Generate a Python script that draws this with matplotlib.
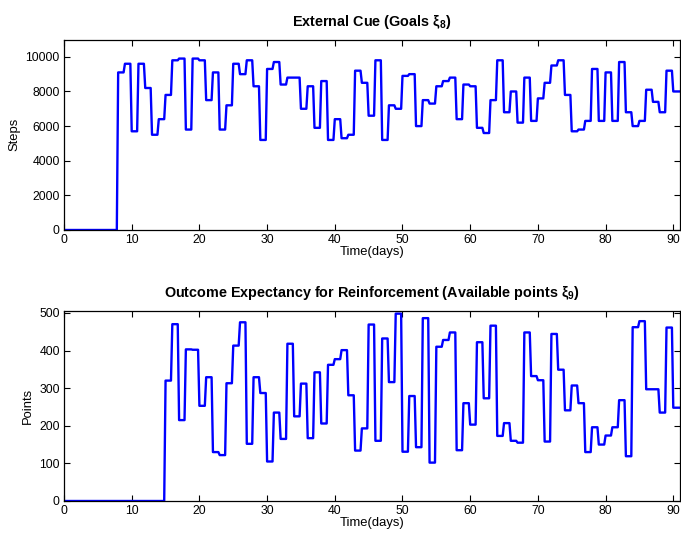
import numpy as np
import matplotlib
matplotlib.use("Agg")
import matplotlib.pyplot as plt

plt.rcParams['font.family'] = ['Liberation Sans', 'DejaVu Sans']
plt.rcParams['mathtext.fontset'] = 'custom'
plt.rcParams['mathtext.rm'] = 'Liberation Sans'
plt.rcParams['mathtext.bf'] = 'Liberation Sans:bold'
plt.rcParams['mathtext.it'] = 'Liberation Sans:italic'

# Daily goal (steps) for days 0..90
goal_steps = [0, 0, 0, 0, 0, 0, 0, 0,
              9100, 9600, 5700, 9600, 8200, 5500, 6400, 7800, 9800, 9900,
              5800, 9900, 9800, 7500, 9100, 5800, 7200, 9600, 9000, 9800,
              8300, 5200, 9300, 9700, 8400, 8800, 8800, 7000, 8300, 5900,
              8600, 5200, 6400, 5300, 5500, 9200, 8500, 6600, 9800, 5200,
              7200, 7000, 8900, 9000, 6000, 7500, 7300, 8300, 8600, 8800,
              6400, 8400, 8300, 5900, 5600, 7500, 9800, 6800, 8000, 6200,
              8800, 6300, 7600, 8500, 9500, 9800, 7800, 5700, 5800, 6300,
              9300, 6300, 9100, 6300, 9700, 6800, 6000, 6300, 8100, 7400,
              6800, 9200, 8000]

# Daily available points for days 0..90
avail_points = [0] * 15 + [
    320, 470, 215, 403, 402, 253, 329, 130, 122, 313, 413, 475, 152,
    329, 287, 105, 235, 165, 418, 225, 312, 167, 342, 206, 362, 377,
    401, 281, 134, 193, 469, 160, 432, 316, 498, 131, 279, 143, 486,
    102, 410, 428, 448, 135, 260, 203, 422, 273, 466, 173, 207, 160,
    155, 448, 332, 321, 158, 444, 349, 241, 307, 260, 130, 196, 150,
    174, 196, 268, 119, 462, 478, 297, 297, 235, 461, 248]

n_days = 91
# simulation time grid (0.2-day resolution), value held over each day
t = np.linspace(0, n_days, n_days * 5 + 1)
day_idx = np.minimum(np.floor(t + 1e-9).astype(int), n_days - 1)
goal_series = np.asarray(goal_steps)[day_idx]
points_series = np.asarray(avail_points)[day_idx]

fig = plt.figure(figsize=(6.81, 5.34), dpi=100)
ax1 = fig.add_axes([0.094, 0.5693, 0.9046, 0.3567])
ax2 = fig.add_axes([0.094, 0.0618, 0.9046, 0.3558])

panels = [
    (ax1, goal_series, 'Steps', (0, 11000), np.arange(0, 10001, 2000),
     r'External Cue (Goals $\mathbf{\xi_8}$)'),
    (ax2, points_series, 'Points', (0, 505), np.arange(0, 501, 100),
     r'Outcome Expectancy for Reinforcement (Available points $\mathbf{\xi_9}$)'),
]

for ax, series, ylab, ylim, yticks, title in panels:
    ax.plot(t, series, color='#0000ff', lw=1.7)
    ax.set_xlim(0, 91)
    ax.set_ylim(*ylim)
    ax.set_xticks(np.arange(0, 91, 10))
    ax.set_yticks(yticks)
    ax.tick_params(direction='in', length=4, width=0.8, top=True, right=True,
                   labelsize=8.8, pad=3)
    for sp in ax.spines.values():
        sp.set_linewidth(0.9)
    ax.set_xlabel('Time(days)', fontsize=9.4, labelpad=0)
    ax.set_ylabel(ylab, fontsize=9.4, labelpad=4)
    ax.set_title(title, fontsize=10.4, fontweight='bold', pad=10)

fig.savefig('out.png', dpi=100)
